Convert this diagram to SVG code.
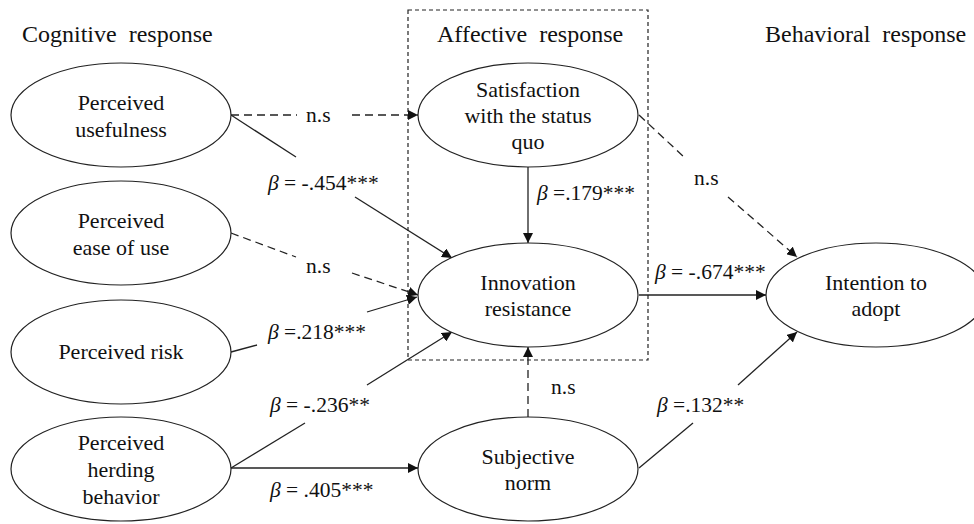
<svg xmlns="http://www.w3.org/2000/svg" width="974" height="524" viewBox="0 0 974 524" font-family="'Liberation Serif', 'Times New Roman', serif">
<style>
text{fill:#111;}
.h{font-size:24px;word-spacing:6px;}
.n{font-size:22px;text-anchor:middle;}
.l{font-size:21.5px;}
.b{font-style:italic;}
ellipse{fill:#fff;stroke:#222;stroke-width:1.2;}
.c line{stroke:#222;stroke-width:1.3;fill:none;}
.d{stroke-dasharray:8 5;}
</style>
<defs>
<marker id="a" viewBox="0 0 10 10" refX="10" refY="5" markerWidth="10" markerHeight="10" markerUnits="userSpaceOnUse" orient="auto">
<path d="M0,0 L10,5 L0,10 z" fill="#111"/>
</marker>
</defs>
<rect width="974" height="524" fill="#fff"/>
<rect x="408" y="10" width="240" height="350" fill="none" stroke="#222" stroke-width="1.2" stroke-dasharray="4 3"/>
<g id="headers">
<text class="h" x="22" y="42">Cognitive response</text>
<text class="h" x="437" y="42">Affective response</text>
<text class="h" x="765" y="42">Behavioral response</text>
</g>
<g class="c" id="connectors">
<line class="d" x1="231" y1="115" x2="297" y2="115"/>
<line class="d" x1="352" y1="115" x2="418" y2="115" marker-end="url(#a)"/>
<line x1="231" y1="115" x2="296" y2="157"/>
<line x1="355" y1="197" x2="452" y2="258" marker-end="url(#a)"/>
<line class="d" x1="231" y1="233" x2="296" y2="257"/>
<line class="d" x1="352" y1="273" x2="418" y2="295" marker-end="url(#a)"/>
<line x1="231" y1="352" x2="257" y2="345"/>
<line x1="367" y1="312" x2="417" y2="297" marker-end="url(#a)"/>
<line x1="231" y1="468" x2="305" y2="423"/>
<line x1="367" y1="385" x2="452" y2="332" marker-end="url(#a)"/>
<line x1="231" y1="468" x2="418" y2="468" marker-end="url(#a)"/>
<line x1="528" y1="167" x2="528" y2="243" marker-end="url(#a)"/>
<line class="d" x1="639" y1="115" x2="684" y2="157"/>
<line class="d" x1="728" y1="197" x2="797" y2="257" marker-end="url(#a)"/>
<line x1="639" y1="295" x2="766" y2="295" marker-end="url(#a)"/>
<line class="d" x1="528" y1="417" x2="528" y2="347" marker-end="url(#a)"/>
<line x1="639" y1="468" x2="693" y2="423"/>
<line x1="738" y1="385" x2="797" y2="332" marker-end="url(#a)"/>
</g>
<g id="labels">
<text class="l" x="306" y="122">n.s</text>
<text class="l" x="268" y="190"><tspan class="b">β</tspan> = -.454***</text>
<text class="l" x="306" y="273">n.s</text>
<text class="l" x="268" y="339"><tspan class="b">β</tspan> =.218***</text>
<text class="l" x="270" y="412"><tspan class="b">β</tspan> = -.236**</text>
<text class="l" x="270" y="497"><tspan class="b">β</tspan> = .405***</text>
<text class="l" x="537" y="200"><tspan class="b">β</tspan> =.179***</text>
<text class="l" x="694" y="185">n.s</text>
<text class="l" x="655" y="279"><tspan class="b">β</tspan> = -.674***</text>
<text class="l" x="551" y="394">n.s</text>
<text class="l" x="657" y="412"><tspan class="b">β</tspan> =.132**</text>
</g>
<g id="pu"><ellipse cx="121" cy="115" rx="110" ry="52"/>
<text class="n" x="121" y="110">Perceived</text><text class="n" x="121" y="137">usefulness</text></g>
<g id="peou"><ellipse cx="121" cy="233" rx="110" ry="52"/>
<text class="n" x="121" y="228">Perceived</text><text class="n" x="121" y="255">ease of use</text></g>
<g id="pr"><ellipse cx="121" cy="352" rx="110" ry="52"/>
<text class="n" x="121" y="359">Perceived risk</text></g>
<g id="phb"><ellipse cx="121" cy="469" rx="110" ry="52"/>
<text class="n" x="121" y="450">Perceived</text><text class="n" x="121" y="477">herding</text><text class="n" x="121" y="504">behavior</text></g>
<g id="sat"><ellipse cx="528" cy="115" rx="110" ry="52"/>
<text class="n" x="528" y="97">Satisfaction</text><text class="n" x="528" y="123">with the status</text><text class="n" x="528" y="149">quo</text></g>
<g id="ir"><ellipse cx="528" cy="295" rx="110" ry="52"/>
<text class="n" x="528" y="290">Innovation</text><text class="n" x="528" y="316">resistance</text></g>
<g id="ita"><ellipse cx="876" cy="295" rx="110" ry="52"/>
<text class="n" x="876" y="290">Intention to</text><text class="n" x="876" y="316">adopt</text></g>
<g id="sn"><ellipse cx="528" cy="469" rx="110" ry="52"/>
<text class="n" x="528" y="464">Subjective</text><text class="n" x="528" y="490">norm</text></g>
</svg>
